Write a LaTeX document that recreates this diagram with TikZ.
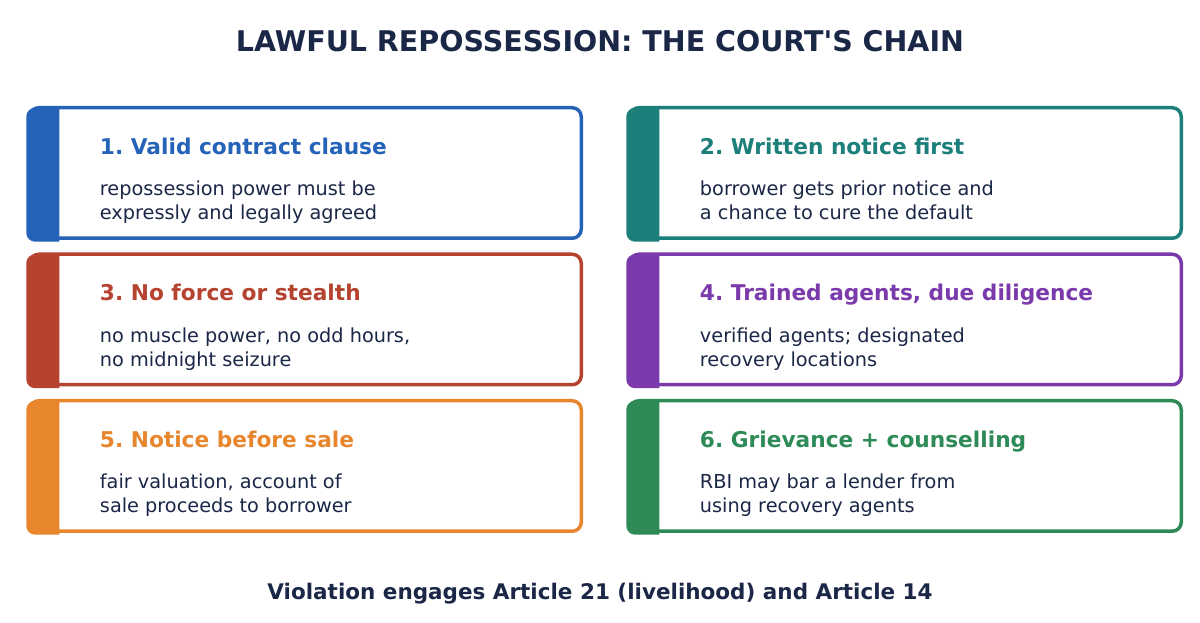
\documentclass[tikz,border=0pt]{standalone}
\usepackage{fontspec}
\setmainfont{DejaVu Sans}
\frenchspacing
\definecolor{navy}{HTML}{1B2747}
\definecolor{cblue}{HTML}{2563B8}
\definecolor{cteal}{HTML}{1C7F7A}
\definecolor{cred}{HTML}{B5432F}
\definecolor{cpurple}{HTML}{7B3AAB}
\definecolor{corange}{HTML}{E8862E}
\definecolor{cgreen}{HTML}{2E8B57}
\newcommand{\card}[7]{%
  % #1 name, #2 left x, #3 top y (px), #4 colour, #5 heading, #6 line1, #7 line2
  \node[cardbox, draw=#4] (#1) at ({#2+277.5pt},{623pt-#3-67pt}) {};
  \fill[#4] ([xshift=-1.75pt,yshift=-1.75pt]#1.south west) ++(33pt,0) -- ++(-24pt,0)
     arc[start angle=270,end angle=180,radius=9pt] -- ++(0,116pt)
     arc[start angle=180,end angle=90,radius=9pt] -- ++(24pt,0) -- cycle;
  \node[head, text=#4] (#1h) at ([xshift=71.75pt,yshift=-48.25pt]#1.north west) {#5};
  \node[body] (#1a) at ([xshift=71.75pt,yshift=-90pt]#1.north west) {#6};
  \node[body] (#1b) at ([xshift=71.75pt,yshift=-114pt]#1.north west) {#7};
}
\tikzset{
  cardbox/.style={rectangle, rounded corners=9pt, line width=3.5pt, fill=white,
    minimum width=551.5pt, minimum height=130.5pt, inner sep=0pt},
  head/.style={anchor=base west, inner sep=0pt, font=\fontsize{21.7}{25}\selectfont\bfseries},
  body/.style={anchor=base west, inner sep=0pt, text=navy, font=\fontsize{19.3}{23}\selectfont},
}
\begin{document}
\begin{tikzpicture}[x=1pt,y=1pt]
\useasboundingbox[fill=white] (0,0) rectangle (1200,623);
\node[anchor=base, inner sep=0pt, text=navy, font=\fontsize{28.5}{32}\selectfont\bfseries] (title) at (600,{623-51.5}) {LAWFUL REPOSSESSION: THE COURT\textquotesingle S CHAIN};
\card{c1}{28pt}{106pt}{cblue}{1. Valid contract clause}{repossession power must be}{expressly and legally agreed}
\card{c2}{628pt}{106pt}{cteal}{2. Written notice first}{borrower gets prior notice and}{a chance to cure the default}
\card{c3}{28pt}{252.5pt}{cred}{3. No force or stealth}{no muscle power, no odd hours,}{no midnight seizure}
\card{c4}{628pt}{252.5pt}{cpurple}{4. Trained agents, due diligence}{verified agents; designated}{recovery locations}
\card{c5}{28pt}{399pt}{corange}{5. Notice before sale}{fair valuation, account of}{sale proceeds to borrower}
\card{c6}{628pt}{399pt}{cgreen}{6. Grievance + counselling}{RBI may bar a lender from}{using recovery agents}
\node[anchor=base, inner sep=0pt, text=navy, font=\fontsize{21.5}{25}\selectfont\bfseries] (foot) at (600,{623-599.5}) {Violation engages Article 21 (livelihood) and Article 14};
\end{tikzpicture}
\end{document}
